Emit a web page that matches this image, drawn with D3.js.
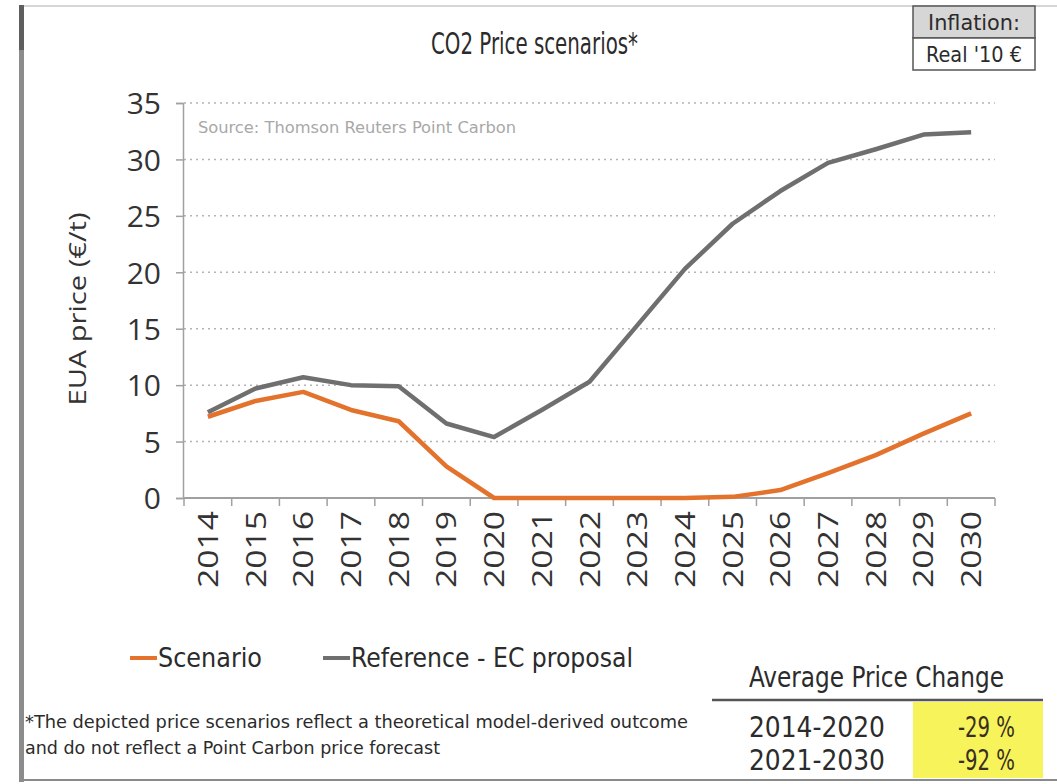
<!DOCTYPE html>
<html>
<head>
<meta charset="utf-8">
<script src="https://cdn.jsdelivr.net/npm/d3@7"></script>
<style>
  html, body { margin: 0; padding: 0; background: #fff; }
  svg { display: block; }
  .narrow { font-family: "Liberation Sans Narrow", "DejaVu Sans Condensed", "Liberation Sans", sans-serif; }
  .wide { font-family: "Open Sans", "DejaVu Sans", sans-serif; }
</style>
</head>
<body>
<svg id="chart" width="1057" height="784"></svg>
<script>
// Years on the horizontal axis
const years = ["2014","2015","2016","2017","2018","2019","2020","2021","2022",
               "2023","2024","2025","2026","2027","2028","2029","2030"];

// EUA price, real 2010 EUR per tonne
const scenario  = [7.2, 8.6, 9.4, 7.8, 6.8, 2.8, 0, 0, 0, 0, 0, 0.1, 0.7, 2.2, 3.8, 5.7, 7.5];
const reference = [7.6, 9.7, 10.7, 10.0, 9.9, 6.6, 5.4, 7.8, 10.3, 15.3, 20.3, 24.3, 27.2, 29.7, 30.9, 32.2, 32.4];

const yTicks = [0, 5, 10, 15, 20, 25, 30, 35];

const seriesNames = ["Scenario", "Reference - EC proposal"];
const seriesColors = ["#e3722c", "#6f6f6f"];

// Average price change table
const periods = ["2014-2020", "2021-2030"];
const priceChange = ["-29 %", "-92 %"];

const svg = d3.select("#chart");

// frame
svg.append("line").attr("x1", 20).attr("x2", 1057).attr("y1", 6).attr("y2", 6)
  .attr("stroke", "#c8c8c8").attr("stroke-width", 1.5);
svg.append("line").attr("x1", 20).attr("x2", 1057).attr("y1", 780).attr("y2", 780)
  .attr("stroke", "#8a8a8a").attr("stroke-width", 2);
svg.append("rect").attr("x", 19).attr("y", 5).attr("width", 5).attr("height", 777).attr("fill", "#8c8c8c");
svg.append("rect").attr("x", 19).attr("y", 5).attr("width", 5).attr("height", 45).attr("fill", "#5e5e5e");

// title
svg.append("text").attr("class", "narrow")
  .attr("x", 431).attr("y", 54).attr("font-size", 30).attr("fill", "#2b2b2b")
  .attr("textLength", 207).attr("lengthAdjust", "spacingAndGlyphs")
  .text("CO2 Price scenarios*");

// inflation box
svg.append("rect").attr("x", 913).attr("y", 6).attr("width", 122).attr("height", 32)
  .attr("fill", "#d6d6d6").attr("stroke", "#555").attr("stroke-width", 1.5);
svg.append("rect").attr("x", 913).attr("y", 38).attr("width", 122).attr("height", 32)
  .attr("fill", "#fff").attr("stroke", "#555").attr("stroke-width", 1.5);
svg.append("text").attr("class", "narrow").attr("x", 974).attr("y", 30)
  .attr("text-anchor", "middle").attr("font-size", 21).attr("fill", "#2b2b2b")
  .attr("textLength", 92).attr("lengthAdjust", "spacingAndGlyphs").text("Inflation:");
svg.append("text").attr("class", "narrow").attr("x", 974).attr("y", 62)
  .attr("text-anchor", "middle").attr("font-size", 21).attr("fill", "#2b2b2b")
  .attr("textLength", 96).attr("lengthAdjust", "spacingAndGlyphs").text("Real '10 €");

// scales
const x = d3.scaleBand().domain(years).range([184, 995]).padding(0);
const y = d3.scaleLinear().domain([0, 35]).range([498, 103]);
const cx = d => x(d) + x.bandwidth() / 2;

// dotted gridlines
svg.append("g").selectAll("line")
  .data(yTicks.filter(v => v > 0))
  .join("line")
  .attr("x1", 184).attr("x2", 995)
  .attr("y1", d => y(d)).attr("y2", d => y(d))
  .attr("stroke", "#b4b4b4").attr("stroke-width", 1.5)
  .attr("stroke-dasharray", "2,4");

// y axis
const yAxis = svg.append("g").attr("transform", "translate(183,0)")
  .call(d3.axisLeft(y).tickValues(yTicks).tickSize(7).tickPadding(15));
yAxis.select(".domain").attr("stroke", "#a0a0a0").attr("stroke-width", 1.5);
yAxis.selectAll(".tick line").attr("stroke", "#a0a0a0").attr("stroke-width", 1.5);
yAxis.selectAll(".tick text").attr("class", "wide")
  .attr("font-size", 30).attr("fill", "#333").attr("dy", "0.36em");

// y axis title
svg.append("text").attr("class", "wide")
  .attr("transform", "translate(86,309) rotate(-90)")
  .attr("text-anchor", "middle").attr("font-size", 24).attr("fill", "#333")
  .attr("textLength", 193).attr("lengthAdjust", "spacingAndGlyphs")
  .text("EUA price (€/t)");

// source note
svg.append("text").attr("class", "narrow")
  .attr("x", 198).attr("y", 133).attr("font-size", 16).attr("fill", "#a8a8a8")
  .attr("textLength", 318).attr("lengthAdjust", "spacingAndGlyphs")
  .text("Source: Thomson Reuters Point Carbon");

// x axis: baseline, boundary ticks, rotated year labels
const xAxis = svg.append("g");
xAxis.append("line").attr("x1", 183).attr("x2", x.range()[1])
  .attr("y1", y(0)).attr("y2", y(0)).attr("stroke", "#a0a0a0").attr("stroke-width", 2);
const bounds = years.map(d => x(d)).concat([x.range()[1]]);
xAxis.selectAll("line.tk").data(bounds).join("line").attr("class", "tk")
  .attr("x1", d => d).attr("x2", d => d)
  .attr("y1", y(0)).attr("y2", y(0) + 8)
  .attr("stroke", "#a0a0a0").attr("stroke-width", 1.5);
xAxis.selectAll("text").data(years).join("text").attr("class", "wide")
  .attr("transform", d => `translate(${cx(d) + 10},${y(0) + 13}) rotate(-90)`)
  .attr("text-anchor", "end").attr("font-size", 27).attr("fill", "#333")
  .attr("textLength", 77).attr("lengthAdjust", "spacingAndGlyphs")
  .text(d => d);

// series lines
const line = d3.line().x((v, i) => cx(years[i])).y(v => y(v));
[scenario, reference].forEach((vals, k) => {
  svg.append("path").datum(vals)
    .attr("fill", "none").attr("stroke", seriesColors[k])
    .attr("stroke-width", 4.5).attr("stroke-linejoin", "round")
    .attr("d", line);
});

// legend
const legendX = [130, 323];
seriesNames.forEach((name, k) => {
  svg.append("line").attr("x1", legendX[k]).attr("x2", legendX[k] + 27)
    .attr("y1", 658).attr("y2", 658)
    .attr("stroke", seriesColors[k]).attr("stroke-width", 4);
  svg.append("text").attr("class", "narrow")
    .attr("x", legendX[k] + 28).attr("y", 667).attr("font-size", 27).attr("fill", "#2b2b2b")
    .attr("textLength", k === 0 ? 104 : 282).attr("lengthAdjust", "spacingAndGlyphs")
    .text(name);
});

// footnote
svg.append("text").attr("class", "narrow")
  .attr("x", 25).attr("y", 728).attr("font-size", 18).attr("fill", "#2b2b2b")
  .attr("textLength", 663).attr("lengthAdjust", "spacingAndGlyphs")
  .text("*The depicted price scenarios reflect a theoretical model-derived outcome");
svg.append("text").attr("class", "narrow")
  .attr("x", 25).attr("y", 754).attr("font-size", 18).attr("fill", "#2b2b2b")
  .attr("textLength", 415).attr("lengthAdjust", "spacingAndGlyphs")
  .text("and do not reflect a Point Carbon price forecast");

// average price change table
svg.append("text").attr("class", "narrow")
  .attr("x", 749).attr("y", 687).attr("font-size", 29).attr("fill", "#2b2b2b")
  .attr("textLength", 255).attr("lengthAdjust", "spacingAndGlyphs")
  .text("Average Price Change");
svg.append("rect").attr("x", 913).attr("y", 702).attr("width", 130).attr("height", 76)
  .attr("fill", "#f6f45a");
svg.append("line").attr("x1", 712).attr("x2", 1043).attr("y1", 700).attr("y2", 700)
  .attr("stroke", "#555").attr("stroke-width", 2.5);
periods.forEach((p, i) => {
  const yy = 737 + i * 33;
  svg.append("text").attr("class", "narrow")
    .attr("x", 749).attr("y", yy).attr("font-size", 29).attr("fill", "#2b2b2b")
    .attr("textLength", 136).attr("lengthAdjust", "spacingAndGlyphs").text(p);
  svg.append("text").attr("class", "narrow")
    .attr("x", 958).attr("y", yy).attr("font-size", 28).attr("fill", "#3a2e22")
    .attr("textLength", 57).attr("lengthAdjust", "spacingAndGlyphs").text(priceChange[i]);
});
</script>
</body>
</html>
